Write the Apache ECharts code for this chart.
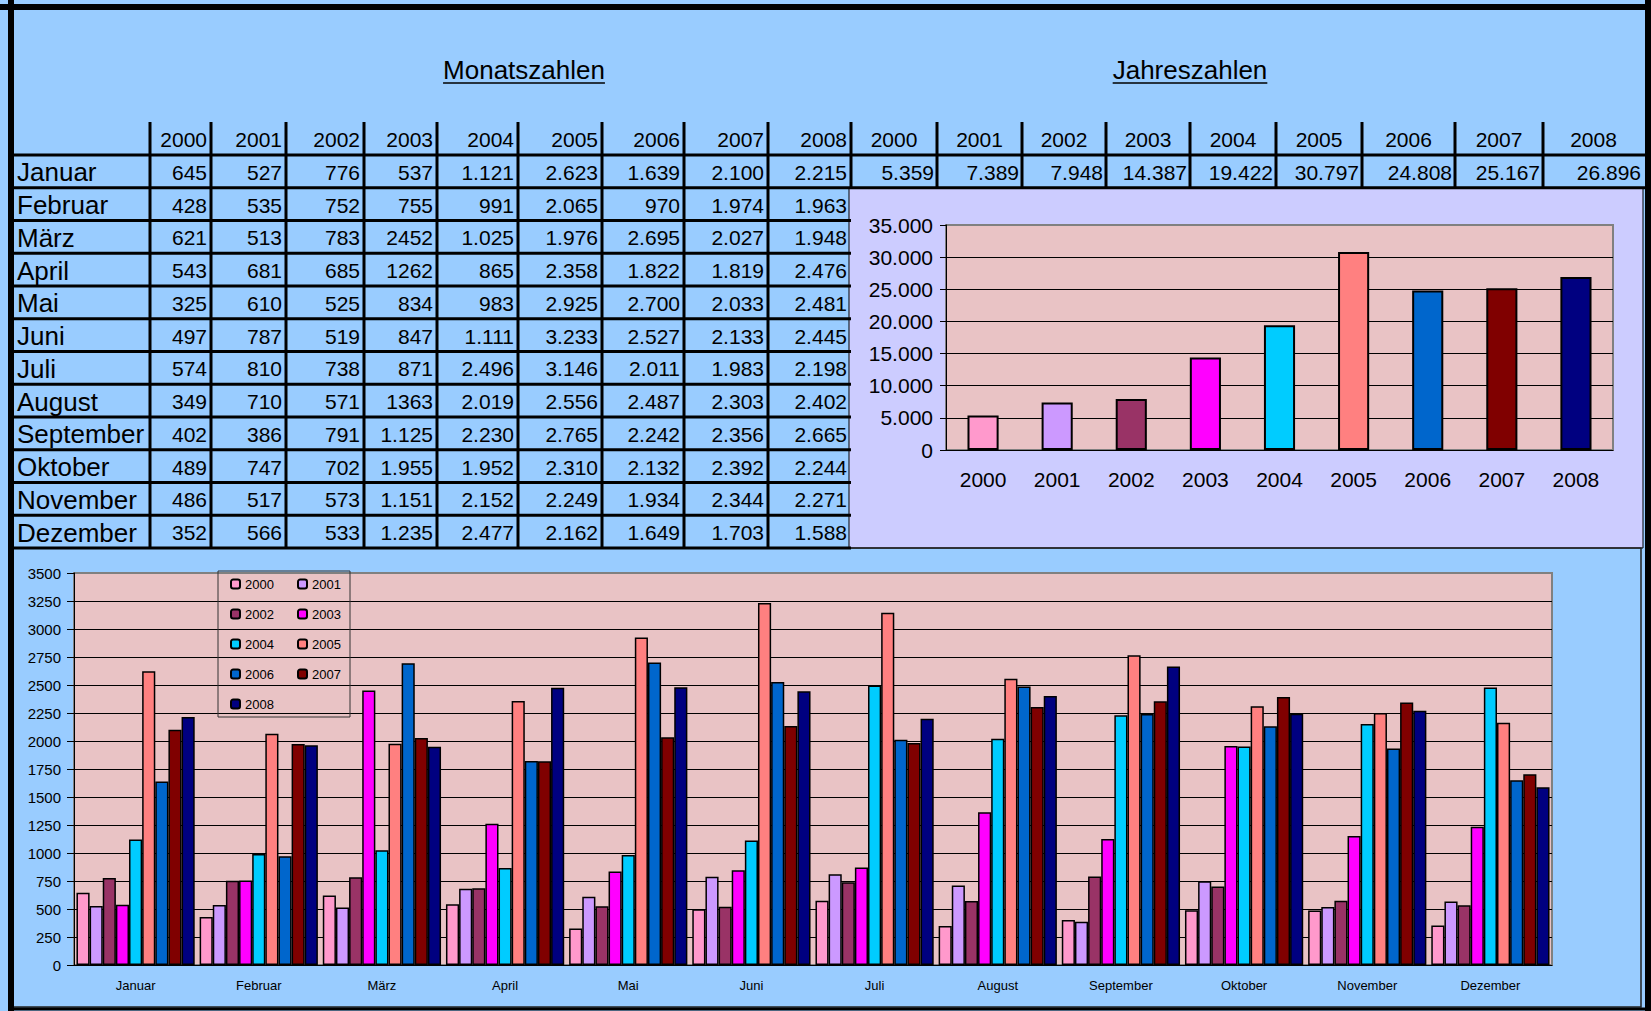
<!DOCTYPE html>
<html>
<head>
<meta charset="utf-8">
<title>Monatszahlen / Jahreszahlen</title>
<script src="https://cdn.jsdelivr.net/npm/echarts@6/dist/echarts.min.js"></script>
<style>
html, body { margin: 0; padding: 0; background: #fff; }
#main { width: 1651px; height: 1011px; }
</style>
</head>
<body>
<div id="main"></div>
<script>
var years = ['2000', '2001', '2002', '2003', '2004', '2005', '2006', '2007', '2008'];
var months = ['Januar', 'Februar', 'März', 'April', 'Mai', 'Juni', 'Juli', 'August', 'September', 'Oktober', 'November', 'Dezember'];
var colors = ['#FF99CC', '#CC99FF', '#993366', '#FF00FF', '#00CCFF', '#FF8080', '#0066CC', '#800000', '#000080'];

// Monatszahlen, Januar..Dezember
var v2000 = [645, 428, 621, 543, 325, 497, 574, 349, 402, 489, 486, 352];
var v2001 = [527, 535, 513, 681, 610, 787, 810, 710, 386, 747, 517, 566];
var v2002 = [776, 752, 783, 685, 525, 519, 738, 571, 791, 702, 573, 533];
var v2003 = [537, 755, 2452, 1262, 834, 847, 871, 1363, 1125, 1955, 1151, 1235];
var v2004 = [1121, 991, 1025, 865, 983, 1111, 2496, 2019, 2230, 1952, 2152, 2477];
var v2005 = [2623, 2065, 1976, 2358, 2925, 3233, 3146, 2556, 2765, 2310, 2249, 2162];
var v2006 = [1639, 970, 2695, 1822, 2700, 2527, 2011, 2487, 2242, 2132, 1934, 1649];
var v2007 = [2100, 1974, 2027, 1819, 2033, 2133, 1983, 2303, 2356, 2392, 2344, 1703];
var v2008 = [2215, 1963, 1948, 2476, 2481, 2445, 2198, 2402, 2665, 2244, 2271, 1588];
var monthly = [v2000, v2001, v2002, v2003, v2004, v2005, v2006, v2007, v2008];

// Jahreszahlen
var jahreszahlen = [5359, 7389, 7948, 14387, 19422, 30797, 24808, 25167, 26896];

// cells the sheet shows without thousands separator: year -> month indexes
var plainCells = { '2003': [2, 3, 7] };

var F = '"Liberation Sans", Arial, sans-serif';

function fmt(n) {
    return String(n).replace(/\B(?=(\d{3})+(?!\d))/g, '.');
}

// table geometry
var colEdges = [10, 150, 211, 286, 364, 437, 518, 602, 684, 768, 851];
var yearEdges = [851, 937, 1022, 1106, 1190, 1276, 1362, 1455, 1543, 1644];
var headTop = 122, rowTop = 155, rowH = 32.75;

var g = [];
function line(x1, y1, x2, y2, w, c) {
    g.push({ type: 'line', z: 50, silent: true, shape: { x1: x1, y1: y1, x2: x2, y2: y2 }, style: { stroke: c || '#000', lineWidth: w } });
}
function label(x, y, s, size, align) {
    g.push({ type: 'text', z: 60, silent: true, x: x, y: y,
        style: { text: s, font: size + 'px ' + F, fill: '#000', textAlign: align, textVerticalAlign: 'middle', align: align, verticalAlign: 'middle' } });
}
var measure = document.createElement('canvas').getContext('2d');
function title(cx, y, s) {
    label(cx, y, s, 26, 'center');
    measure.font = '26px ' + F;
    var w = measure.measureText(s).width;
    line(cx - w / 2, y + 13, cx + w / 2, y + 13, 1.5);
}

// lavender panel behind the yearly chart
g.push({ type: 'rect', z: -1, silent: true, shape: { x: 849, y: 188, width: 794, height: 360 }, style: { fill: '#CCCCFF', stroke: '#000', lineWidth: 1 } });
// frame of the lower chart area
g.push({ type: 'rect', z: -1, silent: true, shape: { x: 12, y: 548, width: 1629, height: 459 }, style: { fill: 'none', stroke: '#222', lineWidth: 1.5 } });

title(524, 70, 'Monatszahlen');
title(1190, 70, 'Jahreszahlen');

// grid lines of the table
for (var c = 1; c < colEdges.length; c++) {
    line(colEdges[c], headTop, colEdges[c], c === colEdges.length - 1 ? rowTop + rowH : rowTop + 12 * rowH, 3);
}
for (var c2 = 1; c2 < yearEdges.length - 1; c2++) {
    line(yearEdges[c2], headTop, yearEdges[c2], rowTop + rowH, 3);
}
for (var r = 0; r <= 12; r++) {
    var yy = rowTop + r * rowH;
    line(10, yy, r <= 1 ? 1646 : 851, yy, 3);
}

// header texts
years.forEach(function (y, j) {
    label(colEdges[j + 2] - 4, headTop + 17, y, 21, 'right');
    label((yearEdges[j] + yearEdges[j + 1]) / 2, headTop + 17, y, 21, 'center');
    label(yearEdges[j + 1] - 3, rowTop + rowH / 2 + 1, fmt(jahreszahlen[j]), 21, 'right');
});
months.forEach(function (m, i) {
    var cy = rowTop + i * rowH + rowH / 2 + 1;
    label(17, cy, m, 26, 'left');
    years.forEach(function (y, j) {
        var v = monthly[j][i];
        var plain = plainCells[y] && plainCells[y].indexOf(i) >= 0;
        label(colEdges[j + 2] - 4, cy, plain ? String(v) : fmt(v), 21, 'right');
    });
});

// outer frame
line(11, 0, 11, 1011, 6);
line(0, 7, 1651, 7, 6);
line(1648, 0, 1648, 1011, 6);
line(8, 1009, 1651, 1009, 3);

var plotBg = '#E9C3C5';
var axisBlack = { lineStyle: { color: '#000', width: 1 } };

var series = [{
    name: 'Jahreszahlen',
    type: 'bar',
    xAxisIndex: 0,
    yAxisIndex: 0,
    barWidth: '42%',
    itemStyle: { borderColor: '#000', borderWidth: 2 },
    data: jahreszahlen.map(function (v, i) { return { value: v, itemStyle: { color: colors[i] } }; })
}];
years.forEach(function (y, j) {
    series.push({
        name: y,
        type: 'bar',
        xAxisIndex: 1,
        yAxisIndex: 1,
        barGap: '0%',
        barCategoryGap: '4%',
        itemStyle: { color: colors[j], borderColor: '#000', borderWidth: 1.5 },
        data: monthly[j]
    });
});

var myChart = echarts.init(document.getElementById('main'), null, { renderer: 'svg' });
var option = {
    backgroundColor: '#99CCFF',
    animation: false,
    textStyle: { fontFamily: F, color: '#000' },
    graphic: { elements: g },
    grid: [
        { left: 946, top: 225, width: 667, height: 225, show: true, backgroundColor: plotBg, borderColor: '#808080', borderWidth: 2 },
        { left: 74, top: 573, width: 1478, height: 392, show: true, backgroundColor: plotBg, borderColor: '#808080', borderWidth: 2 }
    ],
    legend: {
        data: years,
        left: 218,
        top: 571,
        width: 120,
        orient: 'horizontal',
        padding: [6, 2, 6, 12],
        itemGap: 16,
        itemWidth: 9,
        itemHeight: 9,
        borderColor: '#333',
        borderWidth: 1,
        selectedMode: false,
        textStyle: { fontSize: 13, lineHeight: 14, width: 36, color: '#000', fontFamily: F }
    },
    xAxis: [
        {
            gridIndex: 0, type: 'category', data: years,
            axisLine: axisBlack,
            axisTick: { length: 8, lineStyle: { color: '#000' } },
            axisLabel: { fontSize: 21, color: '#000', margin: 19 }
        },
        {
            gridIndex: 1, type: 'category', data: months,
            axisLine: axisBlack,
            axisTick: { length: 5, lineStyle: { color: '#000' } },
            axisLabel: { fontSize: 13, color: '#000', margin: 14 }
        }
    ],
    yAxis: [
        {
            gridIndex: 0, type: 'value', min: 0, max: 35000, interval: 5000,
            axisLine: { show: true, lineStyle: { color: '#000' } },
            axisTick: { show: true, length: 6, lineStyle: { color: '#000' } },
            splitLine: { show: true, showMaxLine: false, lineStyle: { color: '#000', width: 1 } },
            axisLabel: { fontSize: 21, color: '#000', margin: 13, formatter: function (v) { return fmt(v); } }
        },
        {
            gridIndex: 1, type: 'value', min: 0, max: 3500, interval: 250,
            axisLine: { show: true, lineStyle: { color: '#000' } },
            axisTick: { show: true, length: 7, lineStyle: { color: '#000' } },
            splitLine: { show: true, showMaxLine: false, lineStyle: { color: '#000', width: 1 } },
            axisLabel: { fontSize: 15, color: '#000', margin: 13, formatter: function (v) { return String(v); } }
        }
    ],
    series: series
};
myChart.setOption(option);
</script>
</body>
</html>
